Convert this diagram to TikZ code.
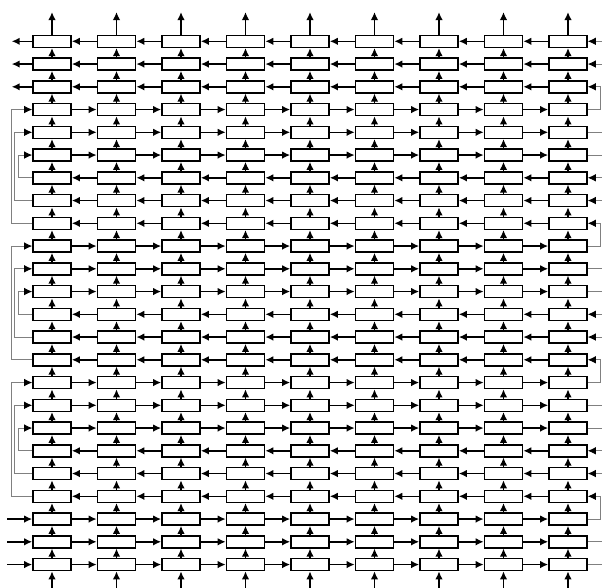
\documentclass[tikz,border=0pt]{standalone}
\usepackage{xcolor}
\usepackage{tikz}
\usetikzlibrary{arrows.meta}

\tikzset{
    cell/.style={draw, line width=0.9pt, fill=white, minimum width=7.6mm, minimum height=2.4mm, inner sep=0pt},
    flow/.style={-{Latex[length=1.6mm,width=1.5mm]}, line width=0.9pt},
    feed/.style={-{Latex[length=1.6mm,width=1.5mm,color=black]}, line width=0.5pt, gray}
}

\begin{document}
\begin{tikzpicture}[x=0.2mm, y=-0.2mm]
    \useasboundingbox (0,0) rectangle (602,588);
    \clip (0,0) rectangle (602,588);

    \foreach \r in {0,...,23}
        \foreach \c in {0,...,8}
            \node[cell] (b-\r-\c) at ({52+64.5*\c},{41.3+22.75*\r}) {};

    \foreach \r in {0,...,23} {
        \pgfmathtruncatemacro\g{mod(floor(\r/3),2)}
        \foreach \c [evaluate=\c as \n using int(\c+1)] in {0,...,7} {
            \ifnum\g=0
                \draw[flow] (b-\r-\n) -- (b-\r-\c);
            \else
                \draw[flow] (b-\r-\c) -- (b-\r-\n);
            \fi
        }
    }

    \foreach \r [evaluate=\r as \u using int(\r+1)] in {0,...,22}
        \foreach \c in {0,...,8}
            \draw[flow] (b-\u-\c) -- (b-\r-\c);

    \foreach \c in {0,...,8} {
        \coordinate (top-\c) at ({52+64.5*\c},12);
        \coordinate (bot-\c) at ({52+64.5*\c},592);
        \draw[flow] (b-0-\c) -- (top-\c);
        \draw[flow] (bot-\c) -- (b-23-\c);
    }

    \foreach \r in {0,1,2} {
        \coordinate (out-\r) at (11.7,{41.3+22.75*\r});
        \draw[flow] (b-\r-0) -- (out-\r);
    }
    \foreach \r in {21,22,23} {
        \coordinate (in-\r) at (7,{41.3+22.75*\r});
        \draw[flow] (in-\r) -- (b-\r-0);
    }

    \foreach \k in {1,3,5,7}
        \foreach \j in {0,1,2} {
            \pgfmathtruncatemacro\src{3*\k+\j}
            \pgfmathtruncatemacro\dst{3*\k-1-\j}
            \draw[feed] (b-\src-8.east) -- ++({12.2+3.2*\j},0) |- (b-\dst-8.east);
        }

    \foreach \k in {2,4,6}
        \foreach \j in {0,1,2} {
            \pgfmathtruncatemacro\src{3*\k+\j}
            \pgfmathtruncatemacro\dst{3*\k-1-\j}
            \draw[feed] (b-\src-0.west) -- ++({-(14.2+3.1*\j)},0) |- (b-\dst-0.west);
        }
\end{tikzpicture}
\end{document}
